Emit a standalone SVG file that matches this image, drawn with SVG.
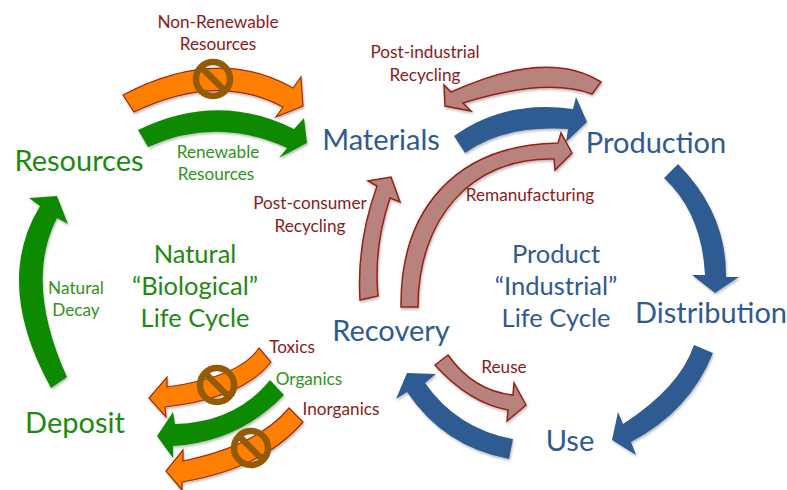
<svg xmlns="http://www.w3.org/2000/svg" width="787" height="490" viewBox="0 0 787 490">
<defs>
<filter id="sh" x="-10%" y="-10%" width="120%" height="120%"><feGaussianBlur in="SourceAlpha" stdDeviation="1.2"/><feOffset dx="0.5" dy="1.5"/><feComponentTransfer><feFuncA type="linear" slope="0.25"/></feComponentTransfer><feMerge><feMergeNode/><feMergeNode in="SourceGraphic"/></feMerge></filter>
</defs>
<style>
text{font-family:Lato,"Liberation Sans",sans-serif;text-anchor:middle}
.big{font-size:29px}
.mid{font-size:25.5px}
.sm{font-size:17.2px}
.g{fill:#1c8a10}
.gs{fill:#2f9418}
.b{fill:#2f5a91}
.r{fill:#8b1a1a}
.a{filter:url(#sh)}
.org{fill:#ff8000;stroke:#a02a10;stroke-width:1.2}
.grn{fill:#118a06}
.blu{fill:#2e5b92}
.ros{fill:#b9837d;stroke:#952018;stroke-width:1.5}
.ban{fill:none;stroke:#955a05;stroke-width:6.5}
</style>
<g id="connectors">
<path class="a org" d="M123 95Q218 45 293 88L301 77L303 106L276 117L283 107Q217.500 72 134 112Z"/>
<path class="a grn" d="M138 130Q218 91 294 129L304 118L307 143L279 158L287 148Q216.500 116 148 147Z"/>
<path class="a grn" d="M51 388Q-7 283 40 206L29 198L57 196L68 224L57 218Q24 282 67 377Z"/>
<path class="a blu" d="M454 136Q505 99.500 573 109L576 97L587 122L566 142L568 129Q504 125 465 153Z"/>
<path class="a ros" d="M601 82Q548 48 451 92L444 85L445 106L471 111L463 103Q546.500 77 592 94Z"/>
<path class="a ros" d="M401 307C400 210 455 145 558 143L561 133L572 153L555 170L554 159C470 157 418 220 418 307Z"/>
<path class="a ros" d="M360 300Q356.500 243 377 186L368 181L391 177L400 202L390 198Q373.500 247 378 296Z"/>
<path class="a blu" d="M678 164Q727 213.500 726 277L739 277L715 293L692 275L705 275Q702 213.500 664 178Z"/>
<path class="a blu" d="M713 353Q690 411 631 442L636 455L612 440L618 412L623 424Q680 387 694 345Z"/>
<path class="a blu" d="M513 439Q457.500 429 425 383L436 374L407 373L396 399L407 392Q444 447 509 459Z"/>
<path class="a ros" d="M448 355Q473.500 391 513 395L514 383L526 405L507 421L508 410Q468.500 402.500 435 365Z"/>
<path class="a org" d="M259 348Q240 377 167 387L167 377L149 398L166 417L165 407Q243 398 271 362Z"/>
<path class="a grn" d="M270 380Q236 422 175 424L173 412L157 436L173 458L173 446Q239 442 284 395Z"/>
<path class="a org" d="M289 408Q258 445.500 183 461L183 450L166 471L182 490L182 482Q263.500 468 303 422Z"/>
</g>
<g id="bans">
<g id="ban1"><circle class="ban" cx="213" cy="79" r="17"/><path class="ban" d="M201 67L225 91"/></g>
<g id="ban2"><circle class="ban" cx="217" cy="385" r="17"/><path class="ban" d="M205 373L229 397"/></g>
<g id="ban3"><circle class="ban" cx="251" cy="448" r="17"/><path class="ban" d="M239 436L263 460"/></g>
</g>
<g id="node-resources"><text class="big g" x="79" y="171">Resources</text></g>
<g id="node-materials"><text class="big b" x="381" y="150">Materials</text></g>
<g id="node-production"><text class="big b" x="656" y="153">Production</text></g>
<g id="node-distribution"><text class="big b" x="711" y="323">Distribution</text></g>
<g id="node-use"><text class="big b" x="570" y="451">Use</text></g>
<g id="node-recovery"><text class="big b" x="391" y="341">Recovery</text></g>
<g id="node-deposit"><text class="big g" x="75" y="433">Deposit</text></g>
<g id="label-biological"><text class="mid g" x="195" y="263">Natural</text><text class="mid g" x="195" y="295">“Biological”</text><text class="mid g" x="195" y="327">Life Cycle</text></g>
<g id="label-industrial"><text class="mid b" x="556" y="263">Product</text><text class="mid b" x="556" y="295">“Industrial”</text><text class="mid b" x="556" y="327">Life Cycle</text></g>
<g id="labels">
<text class="sm r" x="218" y="28">Non-Renewable</text><text class="sm r" x="218" y="50">Resources</text>
<text class="sm gs" x="218" y="158">Renewable</text><text class="sm gs" x="216" y="180">Resources</text>
<text class="sm r" x="425" y="58">Post-industrial</text><text class="sm r" x="425" y="81">Recycling</text>
<text class="sm r" x="530" y="201">Remanufacturing</text>
<text class="sm r" x="310" y="209">Post-consumer</text><text class="sm r" x="310" y="232">Recycling</text>
<text class="sm gs" x="76" y="294">Natural</text><text class="sm gs" x="76" y="316">Decay</text>
<text class="sm r" x="292" y="353">Toxics</text>
<text class="sm gs" x="309" y="385">Organics</text>
<text class="sm r" x="341" y="415">Inorganics</text>
<text class="sm r" x="504" y="373">Reuse</text>
</g>
</svg>
